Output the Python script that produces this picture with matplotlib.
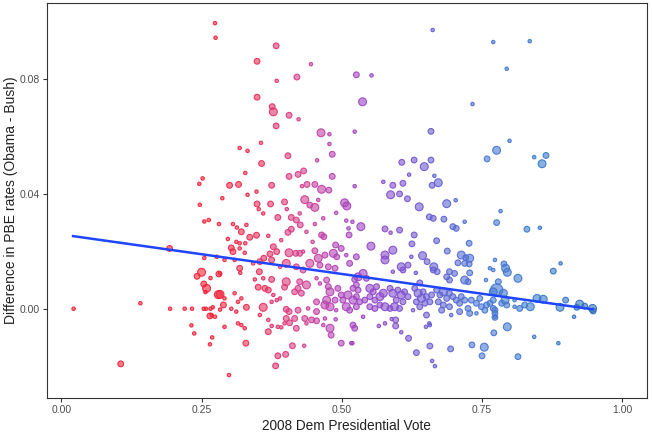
import numpy as np
import matplotlib
matplotlib.use("Agg")
import matplotlib.pyplot as plt
from matplotlib.colors import LinearSegmentedColormap

# --- data (x = 2008 Dem vote, y = PBE difference, w = size class)
x_top = [0.274, 0.275, 0.252, 0.246, 0.247, 0.383, 0.349, 0.445, 0.526, 0.420,
         0.384, 0.349, 0.376, 0.378, 0.406, 0.423, 0.383, 0.463, 0.478, 0.523,
         0.478, 0.356, 0.318, 0.332, 0.404, 0.483, 0.456, 0.357, 0.328, 0.406,
         0.422, 0.432, 0.483, 0.300, 0.316, 0.375, 0.429, 0.438, 0.452, 0.464,
         0.477, 0.523, 0.332, 0.348, 0.287, 0.349, 0.373, 0.398, 0.434, 0.443,
         0.452, 0.458, 0.505, 0.509, 0.662, 0.770, 0.553, 0.537, 0.733, 0.659,
         0.776, 0.759, 0.607, 0.629, 0.659, 0.647, 0.620, 0.665, 0.574, 0.591,
         0.609, 0.661, 0.672, 0.587, 0.603, 0.617, 0.638, 0.687, 0.703, 0.835,
         0.794, 0.799, 0.843, 0.864, 0.857]
y_top = [0.0995, 0.0944, 0.0454, 0.0435, 0.0362, 0.0916, 0.0862, 0.0852, 0.0815, 0.0807,
         0.0794, 0.0737, 0.0704, 0.0686, 0.0674, 0.0660, 0.0637, 0.0613, 0.0608, 0.0617,
         0.0574, 0.0578, 0.0560, 0.0550, 0.0533, 0.0538, 0.0517, 0.0506, 0.0473, 0.0461,
         0.0468, 0.0480, 0.0461, 0.0430, 0.0433, 0.0430, 0.0427, 0.0433, 0.0433, 0.0416,
         0.0413, 0.0427, 0.0397, 0.0408, 0.0385, 0.0365, 0.0365, 0.0372, 0.0380, 0.0361,
         0.0353, 0.0379, 0.0369, 0.0358, 0.0971, 0.0929, 0.0813, 0.0721, 0.0713, 0.0618,
         0.0552, 0.0522, 0.0510, 0.0518, 0.0518, 0.0495, 0.0467, 0.0463, 0.0442, 0.0430,
         0.0437, 0.0430, 0.0439, 0.0397, 0.0400, 0.0383, 0.0355, 0.0366, 0.0378, 0.0932,
         0.0836, 0.0585, 0.0528, 0.0534, 0.0505]
w_top = [1, 1, 1, 1, 1, 2, 2, 1, 2, 2,
         1, 2, 2, 3, 2, 1, 2, 3, 1, 1,
         1, 1, 1, 1, 2, 2, 1, 2, 1, 2,
         2, 2, 2, 2, 2, 2, 1, 2, 2, 3,
         2, 1, 1, 1, 1, 2, 2, 2, 3, 2,
         3, 1, 3, 3, 1, 1, 1, 3, 1, 2,
         3, 2, 2, 2, 2, 3, 1, 1, 1, 2,
         2, 2, 3, 3, 2, 2, 3, 3, 1, 1,
         1, 1, 1, 2, 3]

x_left = [0.255, 0.263, 0.281, 0.193, 0.255, 0.250, 0.242, 0.266, 0.254, 0.259,
          0.257, 0.281, 0.280, 0.022, 0.141, 0.194, 0.220, 0.233, 0.254, 0.258,
          0.266, 0.270, 0.283, 0.265, 0.232, 0.237, 0.269, 0.265, 0.106]
y_left = [0.0304, 0.0309, 0.0295, 0.0210, 0.0177, 0.0127, 0.0113, 0.0107, 0.0086, 0.0071,
          0.0058, 0.0121, 0.0049, 0.0000, 0.0019, 0.0000, 0.0000, 0.0000, 0.0000, 0.0000,
          0.0000, 0.0005, -0.0003, -0.0025, -0.0058, -0.0086, -0.0100, -0.0124, -0.0192]
w_left = [1, 1, 1, 2, 1, 3, 2, 1, 2, 3,
          1, 2, 3, 1, 1, 1, 1, 1, 1, 1,
          1, 1, 1, 2, 1, 1, 1, 1, 2]

x_mid = [0.352, 0.360, 0.402, 0.425, 0.386, 0.410, 0.419, 0.426, 0.452, 0.490,
         0.467, 0.508, 0.519, 0.306, 0.313, 0.330, 0.321, 0.348, 0.336, 0.369,
         0.404, 0.410, 0.437, 0.464, 0.468, 0.448, 0.512, 0.513, 0.297, 0.312,
         0.318, 0.328, 0.392, 0.303, 0.306, 0.318, 0.327, 0.378, 0.384, 0.372,
         0.406, 0.418, 0.425, 0.431, 0.452, 0.458, 0.443, 0.470, 0.485, 0.489,
         0.499, 0.491, 0.508, 0.514, 0.526, 0.277, 0.291, 0.309, 0.342, 0.354,
         0.361, 0.375, 0.401, 0.390, 0.419, 0.431, 0.461, 0.476, 0.488, 0.318,
         0.319, 0.353, 0.283, 0.345, 0.360, 0.375, 0.401, 0.398, 0.425, 0.437,
         0.455, 0.461, 0.473, 0.476, 0.479, 0.493, 0.499, 0.511, 0.520, 0.526,
         0.351, 0.363, 0.369, 0.378, 0.384, 0.390, 0.416, 0.422, 0.428, 0.283,
         0.289, 0.268, 0.291, 0.309, 0.315, 0.321, 0.303, 0.312, 0.330, 0.360,
         0.375, 0.401, 0.406, 0.422, 0.440, 0.455, 0.455, 0.473, 0.479, 0.470,
         0.488, 0.490, 0.502, 0.508, 0.514, 0.526, 0.274, 0.291, 0.321, 0.327,
         0.315, 0.354, 0.369, 0.369, 0.375, 0.386, 0.392, 0.401, 0.407, 0.398,
         0.416, 0.419, 0.434, 0.437, 0.446, 0.455, 0.467, 0.470, 0.479, 0.481,
         0.489, 0.520, 0.523, 0.329, 0.412, 0.433, 0.499, 0.517, 0.386, 0.400,
         0.382, 0.299]
y_mid = [0.0347, 0.0332, 0.0347, 0.0332, 0.0318, 0.0318, 0.0309, 0.0292, 0.0295, 0.0334,
         0.0315, 0.0307, 0.0303, 0.0295, 0.0283, 0.0292, 0.0268, 0.0256, 0.0249, 0.0254,
         0.0266, 0.0277, 0.0268, 0.0257, 0.0251, 0.0233, 0.0280, 0.0257, 0.0243, 0.0233,
         0.0228, 0.0228, 0.0239, 0.0212, 0.0199, 0.0210, 0.0195, 0.0216, 0.0199, 0.0191,
         0.0195, 0.0193, 0.0193, 0.0199, 0.0202, 0.0176, 0.0158, 0.0187, 0.0193, 0.0222,
         0.0210, 0.0181, 0.0187, 0.0158, 0.0181, 0.0181, 0.0170, 0.0170, 0.0158, 0.0164,
         0.0176, 0.0170, 0.0158, 0.0146, 0.0146, 0.0135, 0.0152, 0.0146, 0.0141, 0.0141,
         0.0125, 0.0129, 0.0123, 0.0102, 0.0106, 0.0102, 0.0094, 0.0075, 0.0094, 0.0083,
         0.0106, 0.0088, 0.0100, 0.0077, 0.0059, 0.0071, 0.0048, 0.0048, 0.0030, 0.0083,
         0.0075, 0.0071, 0.0065, 0.0048, 0.0030, 0.0036, 0.0059, 0.0071, 0.0054, 0.0050,
         0.0013, -0.0022, 0.0036, 0.0054, 0.0024, 0.0036, 0.0000, -0.0010, 0.0005, 0.0005,
         0.0024, -0.0002, -0.0010, -0.0005, 0.0001, 0.0024, -0.0010, 0.0030, 0.0007, 0.0013,
         0.0030, -0.0005, 0.0030, 0.0007, -0.0005, 0.0007, -0.0028, -0.0063, -0.0057, -0.0068,
         -0.0051, -0.0022, -0.0039, -0.0080, -0.0060, -0.0063, -0.0065, -0.0034, -0.0049, -0.0051,
         -0.0034, -0.0068, -0.0034, -0.0051, -0.0039, -0.0042, -0.0057, -0.0034, -0.0068, -0.0092,
         -0.0037, -0.0057, -0.0068, -0.0120, -0.0129, -0.0129, -0.0120, -0.0120, -0.0164, -0.0159,
         -0.0199, -0.0231]
w_mid = [1, 1, 1, 1, 2, 2, 2, 2, 1, 1,
         1, 1, 1, 1, 1, 1, 2, 2, 2, 1,
         2, 2, 1, 2, 2, 1, 1, 2, 1, 1,
         1, 1, 1, 2, 2, 1, 1, 2, 2, 2,
         3, 2, 2, 1, 2, 3, 3, 2, 3, 2,
         2, 2, 1, 2, 2, 1, 1, 1, 1, 2,
         2, 2, 3, 1, 2, 2, 2, 2, 2, 2,
         1, 2, 1, 1, 1, 2, 3, 2, 2, 3,
         1, 1, 2, 2, 3, 2, 2, 3, 3, 2,
         2, 2, 2, 1, 1, 1, 2, 2, 2, 3,
         2, 1, 1, 1, 1, 1, 1, 1, 2, 3,
         1, 2, 2, 2, 1, 2, 2, 3, 3, 3,
         2, 1, 2, 3, 2, 2, 1, 1, 1, 1,
         1, 1, 1, 2, 1, 1, 1, 2, 2, 1,
         2, 2, 2, 1, 2, 2, 1, 1, 3, 2,
         1, 2, 2, 2, 2, 1, 2, 1, 2, 2,
         2, 1]

x_right = [0.656, 0.663, 0.682, 0.719, 0.776, 0.534, 0.577, 0.587, 0.603, 0.698,
           0.704, 0.629, 0.669, 0.625, 0.552, 0.727, 0.591, 0.577, 0.577, 0.644,
           0.624, 0.688, 0.652, 0.713, 0.721, 0.728, 0.707, 0.719, 0.727, 0.773,
           0.606, 0.618, 0.609, 0.591, 0.664, 0.663, 0.670, 0.632, 0.692, 0.701,
           0.728, 0.764, 0.770, 0.538, 0.529, 0.544, 0.523, 0.687, 0.692, 0.719,
           0.725, 0.639, 0.757, 0.776, 0.770, 0.520, 0.529, 0.526, 0.532, 0.541,
           0.550, 0.556, 0.562, 0.550, 0.559, 0.568, 0.574, 0.550, 0.559, 0.568,
           0.577, 0.586, 0.594, 0.603, 0.586, 0.591, 0.600, 0.606, 0.612, 0.618,
           0.597, 0.609, 0.630, 0.636, 0.645, 0.642, 0.651, 0.660, 0.633, 0.648,
           0.657, 0.669, 0.675, 0.681, 0.687, 0.692, 0.698, 0.704, 0.713, 0.719,
           0.710, 0.672, 0.681, 0.639, 0.651, 0.657, 0.627, 0.678, 0.692, 0.695,
           0.710, 0.725, 0.731, 0.740, 0.746, 0.749, 0.755, 0.758, 0.764, 0.773,
           0.773, 0.740, 0.728, 0.538, 0.589, 0.566, 0.577, 0.596, 0.596, 0.650,
           0.656, 0.606, 0.619, 0.519, 0.771, 0.657, 0.633, 0.694, 0.732, 0.754,
           0.750, 0.661, 0.666]
y_right = [0.0320, 0.0315, 0.0312, 0.0303, 0.0300, 0.0286, 0.0278, 0.0265, 0.0274, 0.0286,
           0.0280, 0.0257, 0.0237, 0.0226, 0.0218, 0.0228, 0.0204, 0.0187, 0.0170, 0.0185,
           0.0181, 0.0201, 0.0164, 0.0187, 0.0178, 0.0176, 0.0160, 0.0158, 0.0156, 0.0170,
           0.0146, 0.0152, 0.0135, 0.0129, 0.0146, 0.0135, 0.0129, 0.0125, 0.0129, 0.0123,
           0.0125, 0.0141, 0.0135, 0.0123, 0.0111, 0.0106, 0.0102, 0.0111, 0.0100, 0.0100,
           0.0094, 0.0090, 0.0100, 0.0065, 0.0059, 0.0071, 0.0065, 0.0042, 0.0024, 0.0030,
           0.0071, 0.0059, 0.0077, 0.0042, 0.0030, 0.0042, 0.0054, 0.0007, 0.0001, 0.0013,
           0.0007, 0.0001, 0.0007, 0.0001, 0.0071, 0.0054, 0.0065, 0.0048, 0.0059, 0.0042,
           0.0030, 0.0024, 0.0071, 0.0054, 0.0059, 0.0036, 0.0042, 0.0048, 0.0024, 0.0019,
           0.0024, 0.0065, 0.0048, 0.0059, 0.0036, 0.0054, 0.0042, 0.0030, 0.0042, 0.0030,
           0.0019, 0.0024, 0.0013, 0.0007, -0.0022, -0.0057, -0.0005, -0.0005, 0.0007, -0.0022,
           -0.0010, 0.0001, 0.0030, 0.0019, 0.0036, 0.0007, -0.0005, 0.0013, 0.0019, -0.0005,
           -0.0028, -0.0016, -0.0016, -0.0028, -0.0036, -0.0060, -0.0051, -0.0060, -0.0039, -0.0063,
           -0.0051, -0.0082, -0.0103, -0.0120, -0.0084, -0.0130, -0.0153, -0.0140, -0.0126, -0.0134,
           -0.0164, -0.0182, -0.0200]
w_right = [2, 2, 2, 1, 2, 3, 2, 1, 2, 2,
           2, 2, 2, 2, 3, 2, 3, 3, 3, 3,
           1, 2, 2, 3, 2, 3, 2, 2, 2, 1,
           3, 2, 2, 1, 3, 2, 2, 1, 2, 2,
           2, 1, 1, 3, 3, 2, 2, 2, 2, 3,
           2, 2, 1, 4, 3, 2, 2, 2, 2, 2,
           3, 2, 2, 2, 2, 3, 3, 2, 2, 2,
           3, 2, 3, 2, 2, 3, 2, 3, 2, 2,
           2, 2, 2, 3, 2, 3, 2, 2, 2, 2,
           2, 2, 2, 3, 2, 2, 2, 2, 2, 2,
           2, 2, 2, 2, 2, 1, 1, 2, 2, 1,
           2, 2, 2, 2, 2, 2, 2, 2, 2, 2,
           1, 1, 2, 1, 1, 1, 1, 2, 2, 1,
           1, 1, 2, 1, 2, 2, 2, 2, 2, 3,
           2, 1, 1]

x_far = [0.783, 0.830, 0.853, 0.789, 0.792, 0.795, 0.814, 0.877, 0.890, 0.779,
         0.788, 0.791, 0.785, 0.794, 0.770, 0.770, 0.773, 0.773, 0.808, 0.808,
         0.817, 0.826, 0.836, 0.848, 0.859, 0.889, 0.899, 0.914, 0.924, 0.933,
         0.919, 0.947, 0.948, 0.795, 0.843, 0.886, 0.814]
y_far = [0.0340, 0.0277, 0.0282, 0.0156, 0.0141, 0.0127, 0.0106, 0.0131, 0.0158, 0.0094,
         0.0054, 0.0030, 0.0019, 0.0013, 0.0030, 0.0001, -0.0016, -0.0030, 0.0030, 0.0007,
         0.0001, 0.0013, 0.0007, 0.0036, 0.0033, 0.0005, 0.0030, -0.0028, 0.0016, 0.0009,
         0.0005, 0.0001, -0.0008, -0.0063, -0.0098, -0.0120, -0.0167]
w_far = [1, 2, 1, 2, 3, 3, 3, 2, 1, 2,
         3, 3, 2, 2, 2, 2, 2, 2, 1, 1,
         2, 2, 3, 3, 3, 3, 2, 1, 3, 2,
         2, 3, 2, 3, 1, 1, 2]

# fitted line (lm) end points
fit_x = [0.021, 0.947]
fit_y = [0.0253, -0.0002]

x_vote = np.array(x_top + x_left + x_mid + x_right + x_far)
y_diff = np.array(y_top + y_left + y_mid + y_right + y_far)
weight = np.array(w_top + w_left + w_mid + w_right + w_far)
assert len(x_vote) == len(y_diff) == len(weight)

cmap = LinearSegmentedColormap.from_list("vote", [
    (0.00, "#f2243a"), (0.27, "#f2243a"), (0.35, "#e83058"), (0.42, "#d8408a"),
    (0.48, "#b844b4"), (0.55, "#9648c8"), (0.62, "#7a56d0"), (0.68, "#6064d2"),
    (0.75, "#4a78d4"), (0.85, "#3a7ccc"), (1.00, "#2f6cb8")])
colors = cmap(x_vote)
size_map = {1: 6, 2: 17, 3: 32, 4: 80}
sizes = np.array([size_map[w] for w in weight])

plt.rcParams["font.family"] = ["Liberation Sans", "DejaVu Sans"]

fig = plt.figure(figsize=(6.52, 4.32), dpi=100)
ax = fig.add_axes([0.0716, 0.0787, 0.9207, 0.9143])

face = colors.copy()
face[:, 3] = 0.6
edge = colors.copy()
edge[:, 3] = 0.95
ax.scatter(x_vote, y_diff, s=sizes, c=face, edgecolors=edge, linewidths=0.8, zorder=2)
ax.plot(fit_x, fit_y, color="#1f45ff", lw=1.8, zorder=3)

ax.set_xlim(-0.026, 1.044)
ax.set_ylim(-0.0311, 0.1065)
ax.set_xticks([0.0, 0.25, 0.5, 0.75, 1.0])
ax.set_xticklabels(["0.00", "0.25", "0.50", "0.75", "1.00"])
ax.set_yticks([0.0, 0.04, 0.08])
ax.set_yticklabels(["0.00", "0.04", "0.08"])
ax.tick_params(direction="out", length=3, width=0.8, color="#333333",
               labelsize=7.5, labelcolor="#4d4d4d", pad=2)
for sp in ax.spines.values():
    sp.set_color("#333333")
    sp.set_linewidth(0.8)
ax.set_xlabel("2008 Dem Presidential Vote", fontsize=9.8, color="#222222", labelpad=3)
ax.set_ylabel("Difference in PBE rates (Obama - Bush)", fontsize=10, color="#222222", labelpad=1)

fig.savefig("out.png", dpi=100)
